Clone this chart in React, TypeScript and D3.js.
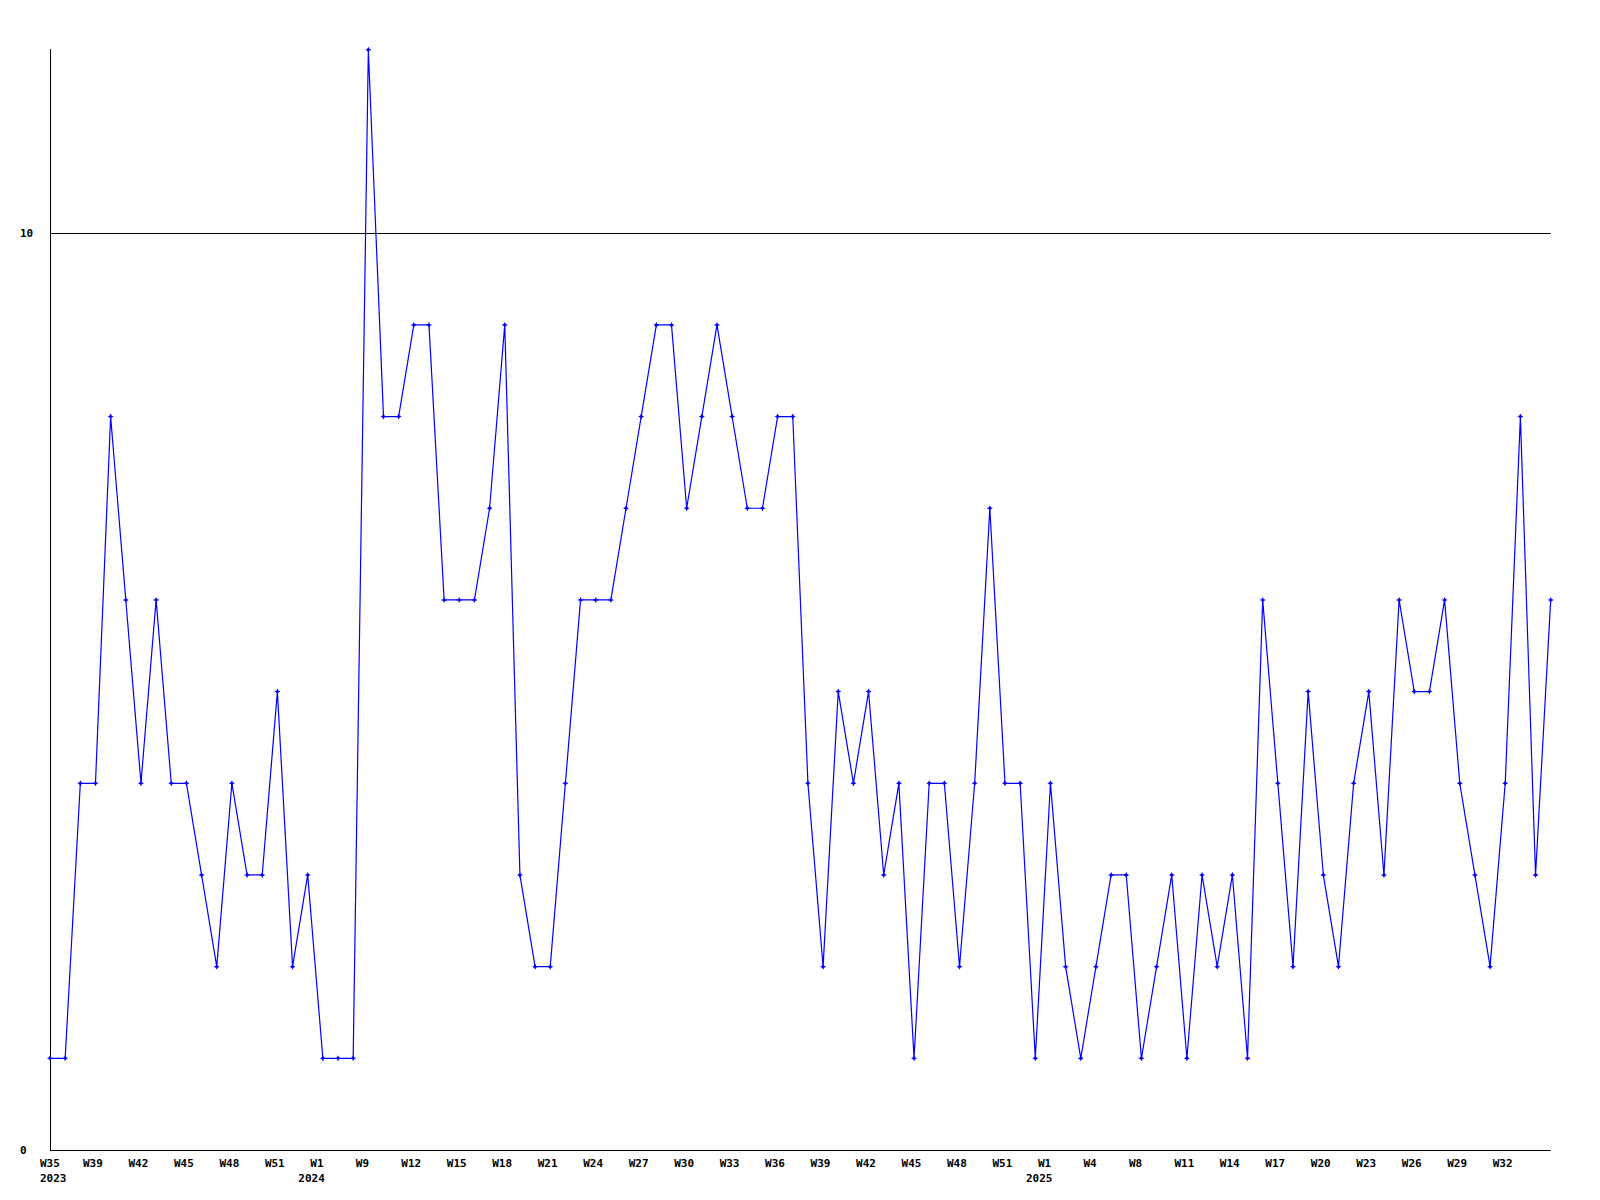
import React from "react";
import * as d3 from "d3";

const values: number[] = [
  1, 1, 4, 4, 8, 6, 4, 6, 4, 4,
  3, 2, 4, 3, 3, 5, 2, 3, 1, 1,
  1, 12, 8, 8, 9, 9, 6, 6, 6, 7,
  9, 3, 2, 2, 4, 6, 6, 6, 7, 8,
  9, 9, 7, 8, 9, 8, 7, 7, 8, 8,
  4, 2, 5, 4, 5, 3, 4, 1, 4, 4,
  2, 4, 7, 4, 4, 1, 4, 2, 1, 2,
  3, 3, 1, 2, 3, 1, 3, 2, 3, 1,
  6, 4, 2, 5, 3, 2, 4, 5, 3, 6,
  5, 5, 6, 4, 3, 2, 4, 8, 3, 6,
];

// week labels shown every 3rd point
const weekLabels: string[] = [
  "W35", "W39", "W42", "W45", "W48", "W51", "W1", "W9", "W12", "W15", "W18",
  "W21", "W24", "W27", "W30", "W33", "W36", "W39", "W42", "W45", "W48", "W51",
  "W1", "W4", "W8", "W11", "W14", "W17", "W20", "W23", "W26", "W29", "W32",
];
const labelStep = 3;

const yearLabels: { index: number; text: string }[] = [
  { index: 0, text: "2023" },
  { index: 18, text: "2024" },
  { index: 66, text: "2025" },
];

const yTicks: number[] = [0, 10];

const W = 1600;
const H = 1200;
const left = 50;
const right = 1550.7;
const bottom = 1150;
const top = 49;
const font = "'DejaVu Sans Mono', 'Liberation Mono', monospace";

export default function App() {
  const x = d3.scaleLinear().domain([0, values.length - 1]).range([left, right]);
  const y = d3.scaleLinear().domain([0, 12]).range([bottom, bottom - 12 * 91.68]);

  const line = d3
    .line<number>()
    .x((_, i) => x(i))
    .y((d) => y(d));

  const marker = "M0,-3L1,-1L3,0L1,1L0,3L-1,1L-3,0L-1,-1Z";

  return (
    <div style={{ position: "absolute", left: 0, top: 0 }}>
      <svg width={W} height={H} style={{ display: "block", background: "#fff" }}>
        <rect x={0} y={0} width={W} height={H} fill="#fff" />
        {/* y axis */}
        <line x1={left} x2={left} y1={top} y2={bottom} stroke="#000" strokeWidth={1} shapeRendering="crispEdges" />
        {/* x axis */}
        <line x1={left} x2={1551} y1={y(0)} y2={y(0)} stroke="#000" strokeWidth={1} shapeRendering="crispEdges" />
        {/* grid at ticks */}
        {yTicks
          .filter((t) => t !== 0)
          .map((t) => (
            <line key={t} x1={left} x2={1551} y1={y(t)} y2={y(t)} stroke="#000" strokeWidth={1} shapeRendering="crispEdges" />
          ))}
        {yTicks.map((t) => (
          <text key={"yt" + t} x={20} y={y(t) + 4} fontFamily={font} fontWeight="bold" fontSize={11} fill="#000">
            {t}
          </text>
        ))}
        {/* data line */}
        <path d={line(values) || ""} fill="none" stroke="#0000ff" strokeWidth={1.2} />
        {values.map((v, i) => (
          <path key={"m" + i} d={marker} transform={`translate(${x(i)},${y(v)})`} fill="#0000ff" />
        ))}
        {/* week labels */}
        {weekLabels.map((lab, k) => {
          const i = k * labelStep;
          return (
            <text key={"w" + k} x={Math.max(40, x(i) - 12.5)} y={1167} fontFamily={font} fontWeight="bold" fontSize={11} fill="#000">
              {lab}
            </text>
          );
        })}
        {yearLabels.map((yl) =>
          yl.index === 0 ? (
            <text key={yl.text} x={40} y={1182} fontFamily={font} fontWeight="bold" fontSize={11} fill="#000">
              {yl.text}
            </text>
          ) : (
            <text key={yl.text} x={x(yl.index) + 2} y={1182} textAnchor="end" fontFamily={font} fontWeight="bold" fontSize={11} fill="#000">
              {yl.text}
            </text>
          )
        )}
      </svg>
    </div>
  );
}
